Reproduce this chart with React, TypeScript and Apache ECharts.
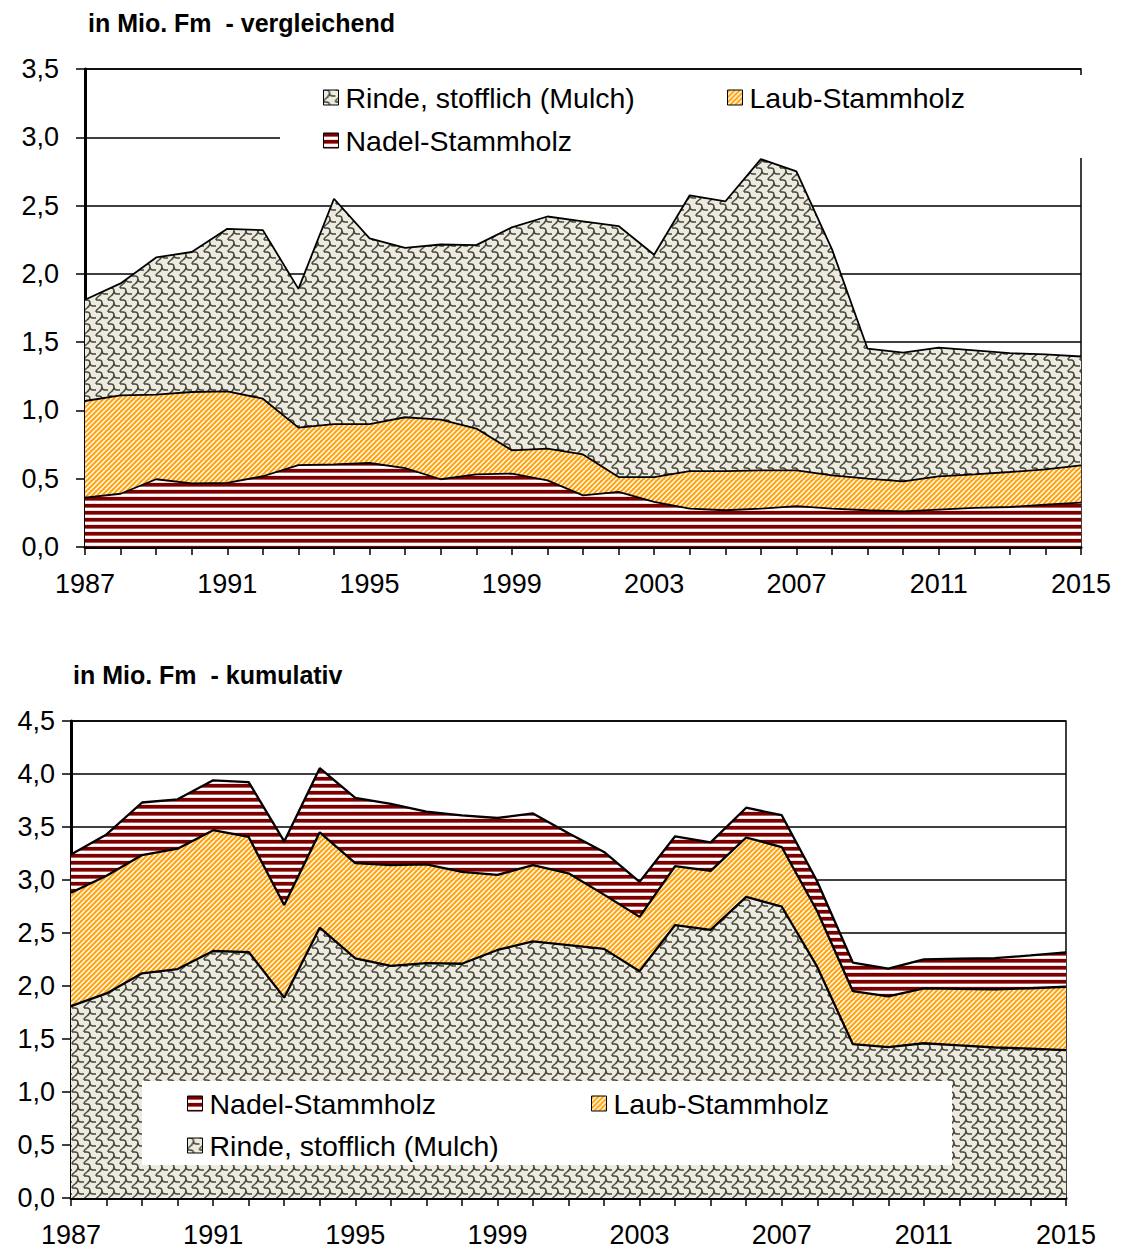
import React, { useEffect, useRef } from 'react';
import * as echarts from 'echarts';

const years = ['1987', '1988', '1989', '1990', '1991', '1992', '1993', '1994', '1995', '1996', '1997', '1998', '1999', '2000', '2001', '2002', '2003', '2004', '2005', '2006', '2007', '2008', '2009', '2010', '2011', '2012', '2013', '2014', '2015'];

const rinde = [1.81, 1.93, 2.12, 2.16, 2.33, 2.32, 1.89, 2.55, 2.26, 2.19, 2.215, 2.21, 2.34, 2.42, 2.385, 2.35, 2.14, 2.575, 2.53, 2.84, 2.75, 2.18, 1.452, 1.423, 1.46, 1.44, 1.42, 1.41, 1.395];
const laub = [1.069, 1.11, 1.115, 1.135, 1.14, 1.086, 0.874, 0.9, 0.9, 0.95, 0.933, 0.867, 0.708, 0.72, 0.678, 0.512, 0.512, 0.556, 0.556, 0.561, 0.561, 0.525, 0.5, 0.48, 0.517, 0.532, 0.549, 0.569, 0.598];
const nadel = [0.361, 0.39, 0.496, 0.466, 0.47, 0.518, 0.6, 0.605, 0.615, 0.578, 0.496, 0.532, 0.537, 0.488, 0.378, 0.403, 0.33, 0.281, 0.269, 0.281, 0.3, 0.281, 0.269, 0.261, 0.274, 0.286, 0.293, 0.31, 0.325];

const NAME_R = 'Rinde, stofflich (Mulch)';
const NAME_L = 'Laub-Stammholz';
const NAME_N = 'Nadel-Stammholz';
const TITLE_TOP = 'in Mio. Fm  - vergleichend';
const TITLE_BOTTOM = 'in Mio. Fm  - kumulativ';

const FONT = "'Liberation Sans', Arial, sans-serif";

function tile(w: number, h: number, draw: (g: CanvasRenderingContext2D) => void) {
  const c = document.createElement('canvas');
  c.width = w;
  c.height = h;
  const g = c.getContext('2d') as CanvasRenderingContext2D;
  draw(g);
  return { image: c.toDataURL(), repeat: 'repeat', imageWidth: w, imageHeight: h };
}

function makePatterns() {
  const pN = tile(4, 7, (g) => {
    g.fillStyle = '#ffffff';
    g.fillRect(0, 0, 4, 7);
    g.fillStyle = '#7c0000';
    g.fillRect(0, 0, 4, 3);
    g.fillStyle = '#b35a5a';
    g.fillRect(0, 3, 4, 1);
    g.fillStyle = '#f2dede';
    g.fillRect(0, 6, 4, 1);
  });
  const pL = tile(10, 10, (g) => {
    g.fillStyle = '#ffa30f';
    g.fillRect(0, 0, 10, 10);
    g.strokeStyle = '#ffffff';
    g.lineWidth = 1.4;
    for (let x = -10; x <= 10; x += 5) {
      g.beginPath();
      g.moveTo(x, 10);
      g.lineTo(x + 10, 0);
      g.stroke();
    }
  });
  const pR = tile(12, 12, (g) => {
    g.fillStyle = '#edeadf';
    g.fillRect(0, 0, 12, 12);
    g.strokeStyle = '#47473c';
    g.lineWidth = 1.45;
    for (const ox of [-12, 0, 12]) {
      for (const oy of [-12, 0, 12]) {
        g.beginPath();
        g.moveTo(ox + 0, oy + 0);
        g.lineTo(ox + 3, oy + 0);
        g.quadraticCurveTo(ox + 6, oy + 0, ox + 6, oy + 3);
        g.quadraticCurveTo(ox + 6, oy + 6, ox + 9, oy + 6);
        g.lineTo(ox + 12, oy + 6);
        g.stroke();
        g.beginPath();
        g.moveTo(ox + 6, oy + 3);
        g.quadraticCurveTo(ox + 6, oy + 6, ox + 3, oy + 8);
        g.quadraticCurveTo(ox + 0, oy + 10, ox + 0, oy + 12);
        g.stroke();
      }
    }
  });
  return { pN, pL, pR };
}

const fmt = (v: number) => v.toFixed(1).replace('.', ',');

export default function App() {
  const ref = useRef<HTMLDivElement>(null);
  useEffect(() => {
    if (!ref.current) return;
    const chart = echarts.init(ref.current, undefined, { renderer: 'svg' });
    const { pN, pL, pR } = makePatterns();
    const colors: Record<string, any> = { [NAME_R]: pR, [NAME_L]: pL, [NAME_N]: pN };

    const xAxisBase = (gridIndex: number) => ({
      gridIndex,
      type: 'category',
      data: years,
      boundaryGap: false,
      axisLine: { show: true, lineStyle: { color: '#000', width: 3 } },
      axisTick: { show: true, interval: 0, length: 8, lineStyle: { color: '#000', width: 1.5 } },
      axisLabel: { interval: 3, margin: 23, fontSize: 27, color: '#000', fontFamily: FONT },
      splitLine: { show: false },
    });
    const yAxisBase = (gridIndex: number, max: number, margin: number) => ({
      gridIndex,
      type: 'value',
      min: 0,
      max,
      interval: 0.5,
      axisLine: { show: true, lineStyle: { color: '#000', width: 3 } },
      axisTick: { show: true, length: 9, lineStyle: { color: '#000', width: 1.5 } },
      axisLabel: { margin, fontSize: 27, color: '#000', fontFamily: FONT, formatter: fmt },
      splitLine: { show: true, lineStyle: { color: '#000', width: 1.5 } },
    });

    const areaSeries = (name: string, data: number[], idx: number, stack?: string, lw = 1.8) => ({
      type: 'line',
      name,
      xAxisIndex: idx,
      yAxisIndex: idx,
      data,
      stack,
      z: 3,
      symbol: 'none',
      showSymbol: false,
      lineStyle: { color: '#000', width: lw },
      itemStyle: { color: colors[name] },
      areaStyle: { color: colors[name], opacity: 1 },
    });

    const legendItem = (name: string, left: number, top: number) => ({
      data: [{ name, icon: 'rect', itemStyle: { color: colors[name], borderColor: '#000', borderWidth: 1 } }],
      left,
      top,
      padding: 0,
      itemWidth: 15,
      itemHeight: 15,
      selectedMode: false,
      z: 20,
      textStyle: { fontSize: 28.5, color: '#000', fontFamily: FONT, padding: [0, 0, 0, 2] },
    });

    chart.setOption({
      animation: false,
      textStyle: { fontFamily: FONT },
      grid: [
        { left: 85, top: 69, width: 996, height: 478, show: true, borderColor: '#000', borderWidth: 1.5 },
        { left: 71, top: 721, width: 995, height: 477, show: true, borderColor: '#000', borderWidth: 1.5 },
      ],
      xAxis: [xAxisBase(0), xAxisBase(1)],
      yAxis: [yAxisBase(0, 3.5, 26), yAxisBase(1, 4.5, 16)],
      legend: [
        legendItem(NAME_R, 323, 83),
        legendItem(NAME_L, 727, 83),
        legendItem(NAME_N, 323, 126),
        legendItem(NAME_N, 187, 1089),
        legendItem(NAME_L, 591, 1089),
        legendItem(NAME_R, 187, 1131),
      ],
      graphic: [
        { type: 'rect', z: 10, shape: { x: 280, y: 75, width: 810, height: 83 }, style: { fill: '#fff' } },
        { type: 'rect', z: 10, shape: { x: 142, y: 1081, width: 810, height: 84 }, style: { fill: '#fff' } },
        { type: 'text', z: 10, x: 88, y: 23, style: { text: TITLE_TOP, font: `bold 25px ${FONT}`, fill: '#000', verticalAlign: 'middle' } },
        { type: 'text', z: 10, x: 73, y: 675, style: { text: TITLE_BOTTOM, font: `bold 25px ${FONT}`, fill: '#000', verticalAlign: 'middle' } },
      ],
      series: [
        areaSeries(NAME_R, rinde, 0),
        areaSeries(NAME_L, laub, 0),
        areaSeries(NAME_N, nadel, 0),
        areaSeries(NAME_R, rinde, 1, 'cum', 2.3),
        areaSeries(NAME_L, laub, 1, 'cum', 2.3),
        areaSeries(NAME_N, nadel, 1, 'cum', 2.3),
      ],
    });
    return () => chart.dispose();
  }, []);
  return <div ref={ref} style={{ position: 'absolute', left: 0, top: 0, width: 1124, height: 1249 }} />;
}
